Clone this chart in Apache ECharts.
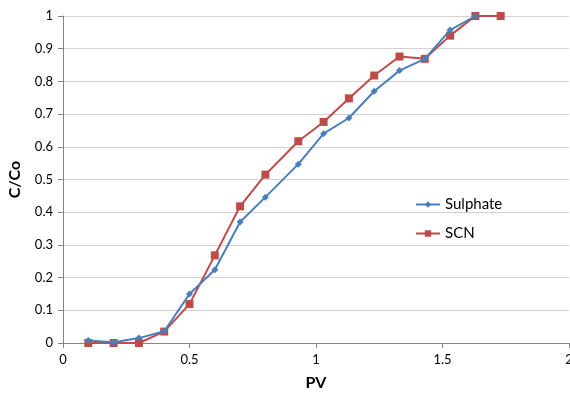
<!DOCTYPE html>
<html><head><meta charset="utf-8">
<script src="https://cdn.jsdelivr.net/npm/echarts@6/dist/echarts.min.js"></script>
<style>html,body{margin:0;padding:0;background:#fff}#c{width:570px;height:393px}</style>
</head><body><div id="c"></div>
<script>
const pv = [0.1, 0.2, 0.3, 0.4, 0.5, 0.6, 0.7, 0.8, 0.93, 1.03, 1.13, 1.23, 1.33, 1.43, 1.53, 1.63, 1.73];
const sulphate = [0.008, 0.002, 0.015, 0.036, 0.15, 0.224, 0.37, 0.446, 0.547, 0.64, 0.688, 0.77, 0.833, 0.869, 0.957, 1.0];
const scn = [0.0, 0.0, 0.0, 0.035, 0.119, 0.268, 0.418, 0.515, 0.617, 0.676, 0.748, 0.818, 0.876, 0.869, 0.94, 1.0, 1.0];
const xTicks = ['0', '0.5', '1', '1.5', '2'];

const font = 'Lato, "Open Sans", sans-serif';
const pair = (xs, ys) => ys.map((v, i) => [xs[i], v]);
const chart = echarts.init(document.getElementById('c'), null, {renderer: 'canvas'});
chart.setOption({
  animation: false,
  backgroundColor: '#fff',
  grid: {left: 63, right: 1, top: 16, bottom: 50, containLabel: false, outerBoundsMode: 'none'},
  xAxis: {
    type: 'value', min: 0, max: 2, interval: 0.5,
    name: 'PV', nameLocation: 'middle', nameGap: 32,
    nameTextStyle: {fontFamily: font, fontWeight: 'bold', fontSize: 16, color: '#000'},
    axisLine: {lineStyle: {color: '#868686', width: 1}},
    axisTick: {show: true, length: 5, lineStyle: {color: '#868686'}},
    axisLabel: {fontFamily: font, fontSize: 13, color: '#000', margin: 10,
      formatter: v => xTicks[Math.round(v / 0.5)]},
    splitLine: {show: false}
  },
  yAxis: {
    type: 'value', min: 0, max: 1, interval: 0.1,
    name: 'C/Co', nameLocation: 'middle', nameGap: 40, nameRotate: 90,
    nameTextStyle: {fontFamily: font, fontWeight: 'bold', fontSize: 16, color: '#000'},
    axisLine: {show: true, lineStyle: {color: '#868686', width: 1}},
    axisTick: {show: true, length: 5, lineStyle: {color: '#868686'}},
    axisLabel: {fontFamily: font, fontSize: 13, color: '#000', margin: 10,
      formatter: v => String(Math.round(v * 10) / 10)},
    splitLine: {show: true, lineStyle: {color: '#d6d0d0', width: 1}}
  },
  legend: {
    orient: 'vertical', left: 410, top: 192, itemGap: 14, itemWidth: 24, itemHeight: 8,
    textStyle: {fontFamily: font, fontSize: 15, color: '#000'},
    data: ['Sulphate', 'SCN']
  },
  series: [
    {name: 'Sulphate', type: 'line', data: pair(pv, sulphate), color: '#4a7ebb',
     symbol: 'diamond', symbolSize: 7, lineStyle: {width: 2}, z: 3},
    {name: 'SCN', type: 'line', data: pair(pv, scn), color: '#be4b48',
     symbol: 'rect', symbolSize: 8, lineStyle: {width: 2}, z: 2}
  ]
});
</script></body></html>
